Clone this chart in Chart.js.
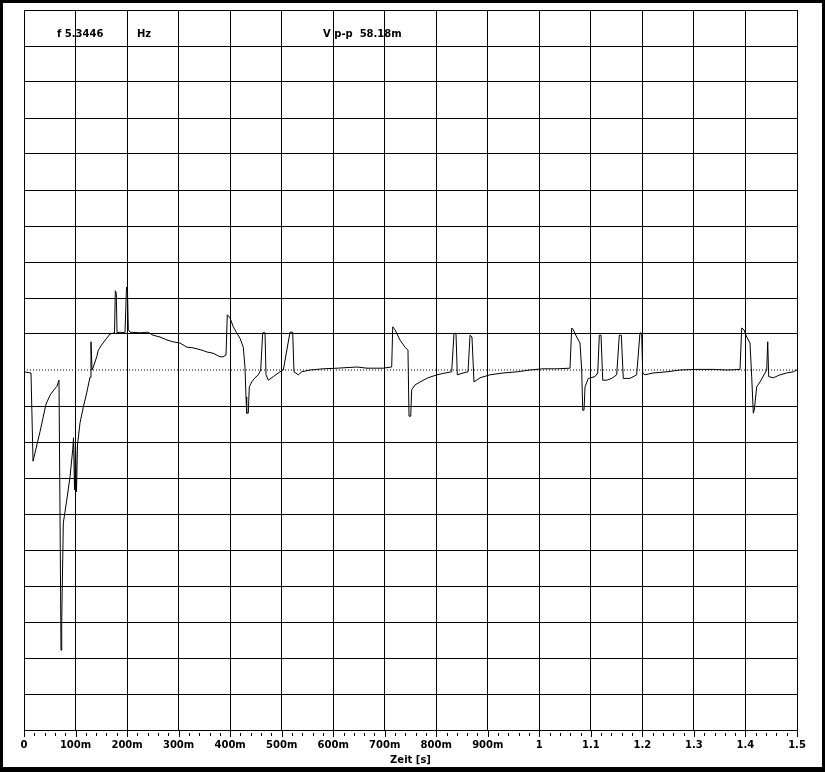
<!DOCTYPE html>
<html>
<head>
<meta charset="utf-8">
<script src="https://cdn.jsdelivr.net/npm/chart.js@4.4.1/dist/chart.umd.min.js"></script>
<style>
  body { margin: 0; background: #fff; }
  canvas { display: block; }
</style>
</head>
<body>
<canvas id="scope" width="825" height="772"></canvas>
<script>
// time axis in ms, voltage in mV
const timeMs = [
  0, 13.6, 17.5, 31.0, 42.7, 50.5, 58.2, 64.0, 67.9, 69.9, 71.8, 73.2, 76.3, 82.9, 89.3,
  94.5, 96.1, 98.0, 99.9, 101.9, 103.8, 108.7, 115.1, 121.7, 128.1, 130.0, 132.0, 134.5,
  141.1, 144.2, 150.8, 160.5, 166.9, 175.6, 177.2, 179.1, 180.5, 186.3, 196.0, 198.9,
  200.8, 202.4, 205.7, 225.1, 240.6, 250.3, 263.9, 277.5, 289.1, 302.7, 316.3, 327.9,
  345.4, 355.1, 366.8, 380.3, 386.2, 392.0, 394.5, 399.7, 406.1, 412.7, 419.1, 425.5,
  428.8, 430.8, 432.1, 435.2, 437.2, 441.8, 448.2, 454.7, 459.3, 463.2, 467.7, 469.6,
  474.1, 483.8, 496.8, 503.2, 516.2, 521.4, 523.9, 532.3, 538.9, 555.0, 580.2, 607.4,
  646.2, 665.6, 696.6, 713.5, 715.5, 719.9, 729.6, 739.3, 745.1, 747.1, 750.4, 752.3,
  758.7, 768.4, 783.9, 801.4, 816.9, 829.9, 834.4, 838.3, 840.8, 851.9, 861.6, 865.5,
  869.3, 873.2, 884.9, 904.3, 929.5, 956.7, 981.9, 1007.1, 1034.3, 1059.5, 1062.8,
  1065.9, 1072.5, 1078.9, 1082.2, 1084.2, 1086.7, 1088.7, 1095.0, 1108.0, 1113.3,
  1116.4, 1119.7, 1123.0, 1130.7, 1140.4, 1150.1, 1155.2, 1159.1, 1162.9, 1175.9,
  1188.9, 1195.3, 1198.6, 1200.6, 1205.0, 1220.6, 1247.7, 1272.9, 1306.0, 1337.0,
  1364.2, 1389.4, 1392.7, 1397.2, 1402.4, 1408.8, 1412.1, 1415.2, 1417.1, 1421.8,
  1428.2, 1441.2, 1443.2, 1445.1, 1454.0, 1467.0, 1480.0, 1492.8, 1500
];
const voltMv = [
  -0.3, -0.5, -15.2, -10.3, -5.7, -4.2, -3.3, -2.7, -1.7, -24.2, -46.7, -41.7, -25.5, -21.7, -17.8,
  -13.3, -11.3, -20.0, -11.7, -20.3, -12.5, -8.8, -6.2, -3.8, -1.2, 4.7, 0.0, 0.5,
  2.2, 3.3, 4.2, 5.3, 6.0, 6.2, 13.2, 12.8, 6.2, 6.3, 6.2, 13.8,
  13.3, 6.7, 6.3, 6.2, 6.3, 5.8, 5.5, 5.0, 4.7, 4.5, 3.8, 3.7,
  3.3, 3.0, 2.8, 2.2, 2.2, 2.5, 9.2, 8.7, 7.2, 6.2, 5.3, 3.8,
  0.5, -4.5, -7.2, -7.2, -2.8, -2.0, -1.3, -0.8, 0.0, 6.2, 6.2, -0.8,
  -1.7, -1.1, -0.3, 0.0, 6.3, 6.3, -0.3, -0.8, -0.3, 0.0, 0.2, 0.3,
  0.5, 0.3, 0.3, 0.5, 7.2, 6.7, 5.0, 3.8, 3.3, -7.7, -7.7, -3.3,
  -2.5, -2.0, -1.3, -0.8, -0.5, -0.3, 6.1, 6.1, -0.8, -0.5, -0.3, 5.8,
  5.5, -2.0, -1.3, -0.8, -0.5, -0.3, 0.0, 0.2, 0.2, 0.3, 7.0,
  6.7, 5.5, 4.5, 0.0, -6.7, -6.7, -2.8, -1.4, -1.1, -0.5,
  5.8, 5.8, -1.7, -1.7, -1.4, -0.8, 5.8, 5.8, -1.4, -1.4,
  -0.8, 6.2, 6.1, -0.5, -0.8, -0.5, -0.3, 0.0, 0.1, 0.1,
  0.0, 0.1, 7.0, 6.7, 5.5, 4.5, -1.1, -7.2, -6.7, -2.8,
  -2.0, 0.0, 4.7, -1.1, -1.3, -0.8, -0.5, -0.3, 0.0
];
const xTicks = [0, 100, 200, 300, 400, 500, 600, 700, 800, 900, 1000, 1100, 1200, 1300, 1400, 1500];
const headerTexts = [
  { text: "f 5.3446", x: 57 },
  { text: "Hz", x: 137 },
  { text: "V p-p  58.18m", x: 323 }
];

let trace = [];
timeMs.forEach((t, i) => {
  trace.push({ x: t, y: voltMv[i] });
});

const fontFam = "'DejaVu Sans', Verdana, sans-serif";

// minor ticks under the time axis, header readout and the black frame
const scopeDecor = {
  id: "scopeDecor",
  afterDraw(chart) {
    const c = chart.ctx;
    const xs = chart.scales.x;
    const base = chart.chartArea.bottom;
    c.save();
    c.strokeStyle = "#000";
    c.lineWidth = 1;
    c.beginPath();
    for (let v = 0; v <= 1500; v += 20) {
      const px = Math.round(xs.getPixelForValue(v)) + 0.5;
      const major = v % 100 === 0;
      c.moveTo(px, base + (major ? 0 : 3));
      c.lineTo(px, base + (major ? 7 : 6));
    }
    c.stroke();

    c.fillStyle = "#000";
    c.font = "bold 10px " + fontFam;
    c.textBaseline = "middle";
    headerTexts.forEach(h => c.fillText(h.text, h.x, 34));

    c.fillRect(0, 0, chart.width, 3);
    c.fillRect(0, 0, 3, chart.height);
    c.fillRect(chart.width - 3, 0, 3, chart.height);
    c.fillRect(0, chart.height - 5, chart.width, 5);
    c.restore();
  }
};

new Chart(document.getElementById("scope"), {
  type: "scatter",
  data: {
    datasets: [{
      data: trace,
      showLine: true,
      borderColor: "#000",
      borderWidth: 1,
      pointRadius: 0,
      tension: 0
    }, {
      data: [{ x: 0, y: 0 }, { x: 1500, y: 0 }],
      showLine: true,
      borderColor: "#000",
      borderWidth: 1,
      borderDash: [1, 2],
      pointRadius: 0
    }]
  },
  options: {
    responsive: false,
    animation: false,
    layout: { padding: { left: 24, right: 28, top: 10, bottom: 0 } },
    plugins: { legend: { display: false }, tooltip: { enabled: false } },
    scales: {
      x: {
        type: "linear",
        min: 0,
        max: 1500,
        afterBuildTicks: s => { s.ticks = xTicks.map(v => ({ value: v })); },
        afterFit: s => { s.height = 42; },
        ticks: {
          autoSkip: false,
          maxRotation: 0,
          padding: 9,
          color: "#000",
          font: { family: fontFam, size: 10, weight: "bold" },
          callback: v => v === 0 ? "0" : (v < 1000 ? v + "m" : String(v / 1000))
        },
        grid: { color: "#000", drawTicks: false },
        border: { color: "#000" },
        title: {
          display: true,
          text: "Zeit [s]",
          color: "#000",
          font: { family: fontFam, size: 10, weight: "bold" },
          padding: { top: 0, bottom: 6 }
        }
      },
      y: {
        min: -60,
        max: 60,
        afterFit: s => { s.width = 0; },
        ticks: { display: false, stepSize: 6 },
        grid: {
          color: c => c.tick.value === 0 ? "rgba(0,0,0,0)" : "#000",
          drawTicks: false
        },
        border: { color: "#000" }
      }
    }
  },
  plugins: [scopeDecor]
});
</script>
</body>
</html>
